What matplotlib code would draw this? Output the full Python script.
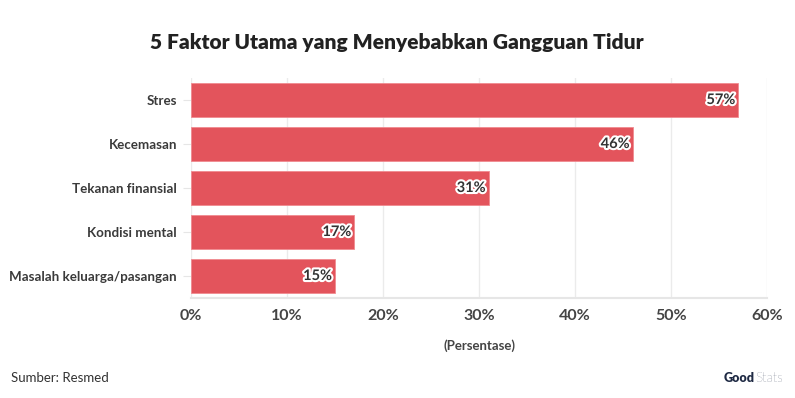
import matplotlib
matplotlib.use("Agg")
import matplotlib.pyplot as plt
import matplotlib.patheffects as pe
from matplotlib.ticker import FuncFormatter

categories = ["Stres", "Kecemasan", "Tekanan finansial", "Kondisi mental", "Masalah keluarga/pasangan"]
values = [57, 46, 31, 17, 15]
xticks = [0, 10, 20, 30, 40, 50, 60]

plt.rcParams['font.family'] = ['Lato', 'DejaVu Sans']

fig = plt.figure(figsize=(7.95, 3.98), dpi=100)
ax = fig.add_axes([191/795, 1-298/398, 576/795, 220/398])

y = list(range(len(categories)))
ax.barh(y, values, height=0.77, color="#E3545C", edgecolor="#F08A90", linewidth=0.6, zorder=2)
ax.set_ylim(len(categories)-0.5, -0.5)
ax.set_xlim(0, 60)
ax.set_xticks(xticks)
ax.xaxis.set_major_formatter(FuncFormatter(lambda v, p: f"{int(v)}%"))
ax.set_yticks(y)
ax.set_yticklabels(categories, fontsize=9.6, fontweight='bold', color="#3a3a3a")
ax.tick_params(axis='y', length=6, color="#e6e6e6", pad=4)
ax.tick_params(axis='x', length=0, labelsize=11.5, labelcolor="#444444", pad=8)
for lbl in ax.get_xticklabels():
    lbl.set_fontweight('bold')
ax.grid(axis='x', color="#ebebeb", linewidth=1, zorder=0)
for s in ['top', 'right', 'left']:
    ax.spines[s].set_visible(False)
ax.spines['bottom'].set_color("#e6e6e6")
ax.spines['bottom'].set_linewidth(1.5)

for yi, v in zip(y, values):
    ax.text(v - 0.3, yi, f"{v}%", ha='right', va='center', fontsize=10.5, fontweight='bold',
            color="#333333", zorder=3,
            path_effects=[pe.withStroke(linewidth=3, foreground='white')])

ax.set_xlabel("(Persentase)", fontsize=9.5, fontweight='bold', color="#444444", labelpad=12)

fig.text(397/795, 1-43/398, "5 Faktor Utama yang Menyebabkan Gangguan Tidur", ha='center', va='center',
         fontsize=15, fontweight='heavy', color="#222222")
fig.text(11/795, 1-378/398, "Sumber: Resmed", ha='left', va='center', fontsize=9.5, color="#333333")
fig.text(755/795, 1-378/398, "Good", ha='right', va='center', fontsize=9, fontweight='heavy', color="#1f2a44")
fig.text(755/795, 1-378/398, "Stats", ha='left', va='center', fontsize=9.5, fontweight='light', color="#1f2a44")

fig.savefig("out.png", dpi=100, facecolor='white')
